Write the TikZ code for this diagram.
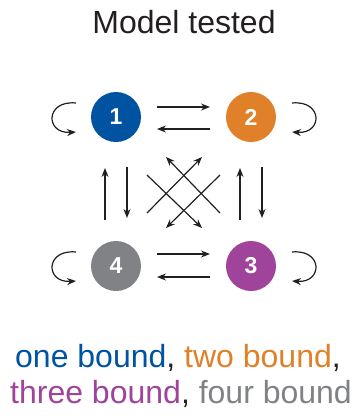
\documentclass[tikz,border=0pt]{standalone}
\usepackage{fontspec}
\setmainfont{Liberation Sans}
\usetikzlibrary{arrows.meta,calc}
\definecolor{cblue}{RGB}{0,83,160}
\definecolor{corange}{RGB}{224,128,40}
\definecolor{cpurple}{RGB}{160,68,155}
\definecolor{cgray}{RGB}{128,130,133}
\definecolor{cdark}{RGB}{35,31,32}
\begin{document}
\begin{tikzpicture}[x=1pt,y=-1pt,
  arr/.style={-{Stealth[length=9pt,width=7pt]}, line width=1.2pt, cdark},
  state/.style={circle, minimum size=50pt, inner sep=0pt, text=white, font=\fontsize{23}{23}\selectfont\bfseries},
  lbl/.style={anchor=base, inner sep=0pt, font=\fontsize{32}{32}\selectfont}]
\useasboundingbox (0,0) rectangle (362,416);
\node[lbl, text=cdark] (title) at (184,33) {Model tested};
\node[state, fill=cblue] (n1) at (116,117) {1};
\node[state, fill=corange] (n2) at (251,117) {2};
\node[state, fill=cpurple] (n3) at (251,266) {3};
\node[state, fill=cgray] (n4) at (116,266) {4};
% horizontal
\draw[arr] ($(n1)+(41,-10)$) -- ($(n2)+(-41,-10)$);
\draw[arr] ($(n2)+(-41,12)$) -- ($(n1)+(41,12)$);
\draw[arr] ($(n4)+(41,-12)$) -- ($(n3)+(-41,-12)$);
\draw[arr] ($(n3)+(-41,11)$) -- ($(n4)+(41,11)$);
% vertical
\draw[arr] ($(n4)+(-11,-46)$) -- ($(n1)+(-11,51)$);
\draw[arr] ($(n1)+(11,50)$) -- ($(n4)+(11,-48)$);
\draw[arr] ($(n3)+(-11,-46)$) -- ($(n2)+(-11,51)$);
\draw[arr] ($(n2)+(11,50)$) -- ($(n3)+(11,-48)$);
% diagonals
\draw[arr] ($(n3)+(-31,-53)$) -- ($(n1)+(50,40)$);
\draw[arr] ($(n4)+(31,-53)$) -- ($(n2)+(-49,40)$);
\draw[arr] ($(n1)+(31,58)$) -- ($(n3)+(-49,-38)$);
\draw[arr] ($(n2)+(-31,58)$) -- ($(n4)+(50,-38)$);
% self loops
\draw[arr] ($(n1)+(-40,-14)$) .. controls ($(n1)+(-71,-17)$) and ($(n1)+(-71,17)$) .. ($(n1)+(-40,15)$);
\draw[arr] ($(n4)+(-40,-14)$) .. controls ($(n4)+(-71,-17)$) and ($(n4)+(-71,17)$) .. ($(n4)+(-40,15)$);
\draw[arr] ($(n2)+(41,-14)$) .. controls ($(n2)+(72,-17)$) and ($(n2)+(72,17)$) .. ($(n2)+(41,15)$);
\draw[arr] ($(n3)+(41,-14)$) .. controls ($(n3)+(72,-17)$) and ($(n3)+(72,17)$) .. ($(n3)+(41,15)$);
% legend
\node[lbl] (leg1) at (178,367) {\textcolor{cblue}{one bound}\textcolor{cdark}{,} \textcolor{corange}{two bound}\textcolor{cdark}{,}};
\node[lbl] (leg2) at (181,403) {\textcolor{cpurple}{three bound}\textcolor{cdark}{,} \textcolor{cgray}{four bound}};
\end{tikzpicture}
\end{document}
